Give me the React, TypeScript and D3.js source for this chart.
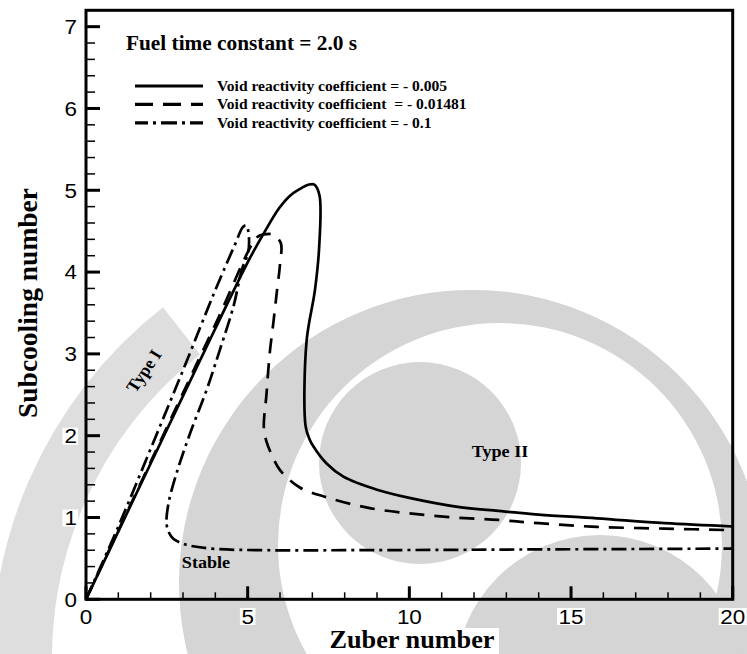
import React from 'react';
import * as d3 from 'd3';

const W = 747;
const H = 654;

// ---- data ----
const xDomain: [number, number] = [0, 20];
const yDomain: [number, number] = [0, 7.2];
const xTickLabels = [0, 5, 10, 15, 20];
const yTickLabels = [0, 1, 2, 3, 4, 5, 6, 7];

// Void reactivity coefficient = -0.005 (solid)
const curveSolid: [number, number][] = [
  [0, 0], [2, 1.66], [4, 3.31], [5, 4.12], [5.45, 4.44], [5.97, 4.78], [6.3, 4.93],
  [6.59, 5.01], [6.9, 5.07], [7.06, 5.07], [7.22, 4.94], [7.21, 4.3], [7.08, 3.78],
  [6.82, 3.15], [6.79, 2.12], [6.9, 1.97], [7.03, 1.87], [7.44, 1.66], [7.96, 1.5],
  [9.0, 1.34], [10.0, 1.24], [11.5, 1.13], [12.75, 1.08], [14, 1.035], [15.8, 0.99],
  [17.9, 0.93], [20, 0.89],
];

// Void reactivity coefficient = -0.01481 (dashed)
const curveDashed: [number, number][] = [
  [0, 0], [2, 1.68], [4, 3.36], [5.3, 4.43], [5.5, 4.46], [5.75, 4.46], [6.02, 4.36],
  [6.0, 4.1], [5.9, 3.75], [5.8, 3.4], [5.68, 3.0], [5.58, 2.5], [5.5, 2.1], [5.58, 1.93],
  [5.75, 1.76], [6.0, 1.58], [6.6, 1.37], [7.5, 1.24], [8.7, 1.12], [10, 1.05],
  [11.4, 1.0], [12.75, 0.97], [14, 0.93], [15.8, 0.885], [17.9, 0.864], [20, 0.845],
];

// Void reactivity coefficient = -0.1 (dash-dot)
const curveDashDot: [number, number][] = [
  [0, 0], [1, 0.89], [2, 1.84], [3, 2.8], [4, 3.78], [4.6, 4.33], [4.85, 4.55],
  [4.95, 4.57], [5.02, 4.5], [5.02, 4.25], [4.82, 4.03], [4.56, 3.58], [4.14, 3.05],
  [3.73, 2.56], [3.22, 2.03], [2.8, 1.54], [2.55, 1.17], [2.49, 0.93], [2.56, 0.82],
  [2.7, 0.74], [3.0, 0.68], [3.22, 0.655], [4.04, 0.615], [5.6, 0.6], [8, 0.6],
  [11.5, 0.605], [14, 0.61], [17, 0.615], [20, 0.62],
];

const seriesData = [curveSolid, curveDashed, curveDashDot];
const legendLabels = [
  'Void reactivity coefficient = - 0.005',
  'Void reactivity coefficient  = - 0.01481',
  'Void reactivity coefficient = - 0.1',
];
const titleText = 'Fuel time constant = 2.0 s';
const xTitle = 'Zuber number';
const yTitle = 'Subcooling number';

// ---- styles ----
const plotDash = ['none', '15,10', '15,5,3,5'];
const legendDash = ['none', '18,10', '16,5,3,5'];
const SERIF = '"Liberation Serif", "Times New Roman", serif';
const SANS = '"Liberation Sans", Arial, sans-serif';
const WM = '#d5d5d5';

function circlePath(cx: number, cy: number, r: number) {
  return `M${cx - r},${cy}a${r},${r} 0 1,0 ${2 * r},0a${r},${r} 0 1,0 ${-2 * r},0Z`;
}

export default function App() {
  const x = d3.scaleLinear().domain(xDomain).range([86, 732.7]);
  const y = d3.scaleLinear().domain(yDomain).range([599.3, 10.3]);
  const line = d3
    .line<[number, number]>()
    .x((d) => x(d[0]))
    .y((d) => y(d[1]))
    .curve(d3.curveCatmullRom.alpha(0.5));

  const xMinor = d3.range(0, 20.001, 1).filter((v) => v % 5 !== 0);
  const yMinor = d3
    .range(0, 7.001, 0.2)
    .map((v) => Math.round(v * 10) / 10)
    .filter((v) => Math.abs(v - Math.round(v)) > 0.01);

  const outerBand = d3.arc()({
    innerRadius: 385,
    outerRadius: 445,
    startAngle: (265 * Math.PI) / 180,
    endAngle: (322 * Math.PI) / 180,
  } as any) as string;

  const sx = 1.15; // tick-label stretch
  const x0 = x(0);
  const yBase = y(0);

  return (
    <svg
      width={W}
      height={H}
      viewBox={`0 0 ${W} ${H}`}
      style={{ position: 'absolute', left: 0, top: 0, background: '#fff' }}
    >
      <rect x={0} y={0} width={W} height={H} fill="#fff" />
      {/* watermark */}
      <g>
        <path d={outerBand} transform="translate(437,658)" fill="#dedede" />
        <path
          d={circlePath(472, 583, 293) + circlePath(500, 545, 222)}
          fill={WM}
          fillRule="evenodd"
        />
        <circle cx={420} cy={463} r={101} fill={WM} />
        <circle cx={600} cy={680} r={145} fill={WM} />
      </g>

      {/* white boxes behind labels */}
      {xTickLabels.map((v) => {
        const w = String(v).length * 12.5 + 3;
        return <rect key={'xb' + v} x={x(v) - w / 2} y={608} width={w} height={17} fill="#fff" />;
      })}
      {yTickLabels.map((v) => {
        const w = String(v).length * 12.5 + 3;
        return <rect key={'yb' + v} x={78 - w} y={y(v) - 8} width={w} height={17} fill="#fff" />;
      })}
      <rect x={325} y={628} width={174} height={26} fill="#fff" />
      <rect x={12} y={185} width={30} height={237} fill="#fff" />

      {/* frame */}
      <rect
        x={x0}
        y={y(7.2)}
        width={x(20) - x0}
        height={yBase - y(7.2)}
        fill="none"
        stroke="#000"
        strokeWidth={3}
      />
      {/* x ticks */}
      {xTickLabels.map((v) => (
        <line key={'xt' + v} x1={x(v)} x2={x(v)} y1={yBase} y2={yBase - 13} stroke="#000" strokeWidth={3} />
      ))}
      {xMinor.map((v) => (
        <line key={'xm' + v} x1={x(v)} x2={x(v)} y1={yBase} y2={yBase - 7} stroke="#000" strokeWidth={1.5} />
      ))}
      {/* y ticks */}
      {yTickLabels.map((v) => (
        <line key={'yt' + v} x1={x0} x2={x0 + 14} y1={y(v)} y2={y(v)} stroke="#000" strokeWidth={3} />
      ))}
      {yMinor.map((v) => (
        <line key={'ym' + v} x1={x0} x2={x0 + 9} y1={y(v)} y2={y(v)} stroke="#000" strokeWidth={1.5} />
      ))}

      {/* tick labels */}
      {xTickLabels.map((v) => (
        <text
          key={'xl' + v}
          transform={`translate(${x(v)},623.5) scale(${sx},1)`}
          textAnchor="middle"
          fontFamily={SANS}
          fontSize={19.5}
          fill="#000"
        >
          {v}
        </text>
      ))}
      {yTickLabels.map((v) => (
        <text
          key={'yl' + v}
          transform={`translate(77,${y(v) + 7.3}) scale(${sx},1)`}
          textAnchor="end"
          fontFamily={SANS}
          fontSize={19.5}
          fill="#000"
        >
          {v}
        </text>
      ))}

      {/* axis titles */}
      <text
        transform={`translate(${(325 + 499) / 2},647.5) scale(1.05,1)`}
        textAnchor="middle"
        fontFamily={SERIF}
        fontWeight="bold"
        fontSize={25}
      >
        {xTitle}
      </text>
      <text
        transform="translate(36.5,303) rotate(-90)"
        textAnchor="middle"
        fontFamily={SERIF}
        fontWeight="bold"
        fontSize={27.5}
      >
        {yTitle}
      </text>

      {/* curves */}
      {seriesData.map((s, i) => (
        <path
          key={'s' + i}
          d={line(s) as string}
          fill="none"
          stroke="#000"
          strokeWidth={2.7}
          strokeDasharray={plotDash[i]}
          strokeLinejoin="round"
        />
      ))}

      {/* title */}
      <text
        transform="translate(126,50) scale(1.065,1)"
        fontFamily={SERIF}
        fontWeight="bold"
        fontSize={20}
      >
        {titleText}
      </text>

      {/* legend */}
      {legendLabels.map((lab, i) => {
        const ly = 86 + i * 18.4;
        return (
          <g key={'lg' + i}>
            <line
              x1={135}
              x2={203}
              y1={ly}
              y2={ly}
              stroke="#000"
              strokeWidth={3.2}
              strokeDasharray={legendDash[i]}
              strokeDashoffset={i === 2 ? 3 : 0}
            />
            <text
              transform={`translate(217,${ly + 4.8}) scale(1.074,1)`}
              fontFamily={SERIF}
              fontWeight="bold"
              fontSize={14.5}
              style={{ whiteSpace: 'pre' }}
            >
              {lab}
            </text>
          </g>
        );
      })}

      {/* region labels */}
      <text
        transform="translate(149,374) scale(1.065,1) rotate(-57)"
        textAnchor="middle"
        fontFamily={SERIF}
        fontWeight="bold"
        fontSize={17}
      >
        Type I
      </text>
      <text
        transform="translate(206,568) scale(1.065,1)"
        textAnchor="middle"
        fontFamily={SERIF}
        fontWeight="bold"
        fontSize={17}
      >
        Stable
      </text>
      <text
        transform="translate(500,457) scale(1.068,1)"
        textAnchor="middle"
        fontFamily={SERIF}
        fontWeight="bold"
        fontSize={17}
      >
        Type II
      </text>
    </svg>
  );
}
